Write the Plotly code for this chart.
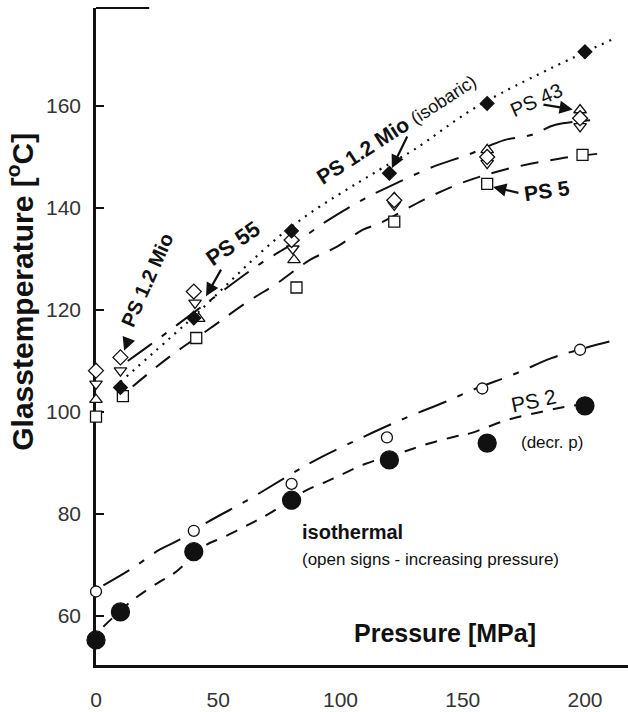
import plotly.graph_objects as go

# Glass temperature vs. pressure for several polystyrene samples
# --- measured points -------------------------------------------------------
# PS 1.2 Mio, isobaric (filled diamonds)
iso_p = [10, 40, 80, 120, 160, 200]
iso_t = [104.8, 118.4, 135.5, 146.8, 160.5, 170.6]

# PS 1.2 Mio, isothermal (open diamonds)
mio_p = [0, 10, 40, 80, 122, 160, 198]
mio_t = [108.1, 110.7, 123.6, 133.7, 141.5, 150.0, 157.6]

# PS 55 (open triangles down)
ps55_p = [0, 10, 40.5, 80.5, 122, 160, 198]
ps55_t = [105.5, 108.1, 121.4, 132.0, 140.6, 148.8, 156.0]

# PS 43 (open triangles up)
ps43_p = [0, 42, 81, 122, 160, 198]
ps43_t = [102.4, 118.3, 129.8, 142.0, 151.4, 159.2]

# PS 5 (open squares)
ps5_p = [0, 11, 41, 82, 122, 160, 199]
ps5_t = [99.1, 103.1, 114.5, 124.4, 137.3, 144.7, 150.4]

# PS 2, increasing pressure (open circles)
ps2_up_p = [0, 40, 80, 119, 158, 198]
ps2_up_t = [64.8, 76.7, 85.9, 95.0, 104.6, 112.2]

# PS 2, decreasing pressure (filled circles)
ps2_dn_p = [0, 10, 40, 80, 120, 160, 200]
ps2_dn_t = [55.3, 60.8, 72.6, 82.7, 90.6, 93.9, 101.2]

# --- fitted curves ---------------------------------------------------------
iso_fit_p = [10, 37, 79, 116, 130, 157, 211]
iso_fit_t = [105.9, 117.4, 136.0, 147.5, 151.4, 160.2, 173.0]

upper_fit_p = [13, 22, 47, 67, 84, 94, 109, 116, 138, 152, 167, 178, 188, 206]
upper_fit_t = [110.0, 113.1, 122.0, 129.0, 134.0, 137.3, 141.6, 143.3, 148.1, 150.4, 153.3, 154.3, 156.3, 157.3]

ps5_fit_p = [15, 30, 47, 62, 74, 87.5, 98.6, 109, 116, 134, 149, 167, 190, 205]
ps5_fit_t = [105.0, 110.8, 116.5, 121.6, 125.2, 129.8, 132.4, 135.7, 137.0, 141.6, 144.8, 147.5, 149.7, 150.6]

ps2_up_fit_p = [3, 15, 26, 34, 46, 62, 78, 90, 108, 126, 143, 154, 172, 186, 196, 210]
ps2_up_fit_t = [66.0, 69.4, 73.0, 74.9, 78.5, 82.7, 87.3, 90.6, 94.8, 98.7, 102.0, 104.3, 107.6, 110.5, 112.0, 113.8]

ps2_dn_fit_p = [3, 15, 26, 32, 45, 51, 62, 71, 85, 94, 100, 110, 126, 134, 147, 153, 168, 181, 192, 201]
ps2_dn_fit_t = [57.9, 63.1, 66.7, 68.4, 73.9, 75.2, 77.8, 80.1, 84.4, 86.3, 87.6, 89.8, 92.2, 93.5, 95.2, 95.8, 98.4, 99.9, 101.0, 101.6]

x_ticks = [0, 50, 100, 150, 200]
y_ticks = [60, 80, 100, 120, 140, 160]

FONT = "Liberation Sans, Arial, sans-serif"
INK = "#111111"

fig = go.Figure()


def fit_line(px, pt, dash, width=2.0):
    fig.add_trace(go.Scatter(
        x=px, y=pt, mode="lines", line=dict(color=INK, width=width, dash=dash, shape="spline"),
        hoverinfo="skip", showlegend=False))


fit_line(iso_fit_p, iso_fit_t, "2px,6px", 2.2)
fit_line(upper_fit_p, upper_fit_t, "30px,12px,6px,12px")
fit_line(ps5_fit_p, ps5_fit_t, "18px,12px")
fit_line(ps2_up_fit_p, ps2_up_fit_t, "30px,12px,6px,12px")
fit_line(ps2_dn_fit_p, ps2_dn_fit_t, "12px,10px")


def points(px, pt, symbol, size, filled):
    fig.add_trace(go.Scatter(
        x=px, y=pt, mode="markers", cliponaxis=False, showlegend=False,
        marker=dict(symbol=symbol, size=size,
                    color=INK if filled else "white",
                    line=dict(color=INK, width=1.3))))


points(ps5_p, ps5_t, "square", 11, False)
points(ps43_p, ps43_t, "triangle-up", 11, False)
points(ps55_p, ps55_t, "triangle-down", 11, False)
points(mio_p, mio_t, "diamond", 11.5, False)
points(iso_p, iso_t, "diamond", 10.5, True)
points(ps2_up_p, ps2_up_t, "circle", 11, False)
points(ps2_dn_p, ps2_dn_t, "circle", 18, True)

annotations = []


def label(text, x, y, size, angle=0, bold=False, xanchor="center"):
    annotations.append(dict(
        x=x, y=y, xref="x", yref="y", text=f"<b>{text}</b>" if bold else text,
        showarrow=False, textangle=angle, xanchor=xanchor, yanchor="middle",
        font=dict(family=FONT, size=size, color=INK)))


def arrow(x0, y0, x1, y1):
    annotations.append(dict(
        x=x1, y=y1, ax=x0, ay=y0, xref="x", yref="y", axref="x", ayref="y",
        text="", showarrow=True, arrowhead=2, arrowsize=1.2, arrowwidth=2.2,
        arrowcolor=INK, standoff=0, startstandoff=0))


label("PS 1.2 Mio", 20.9, 125.9, 20, angle=-66, bold=True)
arrow(13.5, 114.5, 11.5, 112.0)

label("PS 55", 56, 133, 22, angle=-35, bold=True)
arrow(51.5, 128.2, 45, 122.7)

label("<b>PS 1.2 Mio</b> <span style='font-size:18px'>(isobaric)</span>", 123, 155.5, 21, angle=-33)
arrow(127.6, 154.3, 121, 147.8)

label("PS 43", 180, 161.2, 20, angle=-24)
arrow(182.4, 160.3, 195, 159.3)

label("PS 5", 184.5, 143.5, 21, angle=-8, bold=True)
arrow(173.4, 142.9, 162.4, 144.1)

label("PS 2", 179, 102.2, 21, angle=-12)
label("(decr. p)", 186.5, 94.1, 17)

label("isothermal", 83.4, 76.5, 20, bold=True, xanchor="left")
label("(open signs - increasing pressure)", 83.4, 71.0, 17, xanchor="left")

label("Pressure [MPa]", 142.7, 56.7, 25, bold=True)

annotations.append(dict(
    x=-0.143, y=0.568, xref="paper", yref="paper", showarrow=False, textangle=-90,
    xanchor="center", yanchor="middle",
    text="<b>Glasstemperature [<sup>o</sup>C]</b>",
    font=dict(family=FONT, size=30, color=INK)))

fig.update_layout(
    width=628, height=712,
    margin=dict(l=96, r=0, t=8, b=47),
    paper_bgcolor="white", plot_bgcolor="white",
    showlegend=False,
    annotations=annotations,
    shapes=[dict(type="line", xref="paper", yref="paper", x0=0, x1=0.1, y0=1, y1=1,
                 line=dict(color=INK, width=2))],
    xaxis=dict(range=[0, 217.6], showline=True, linewidth=2.5, linecolor=INK,
               showgrid=False, zeroline=False, ticks="", tickvals=x_ticks,
               ticklabelstandoff=14, layer="below traces",
               tickfont=dict(family=FONT, size=21, color="#333333")),
    yaxis=dict(range=[50.39, 179.2], showline=True, linewidth=2.5, linecolor=INK,
               showgrid=False, zeroline=False, ticks="inside", ticklen=8, tickwidth=1.5,
               tickcolor=INK, tickvals=y_ticks, ticklabelstandoff=8, layer="below traces",
               tickfont=dict(family=FONT, size=21, color="#333333")),
)

fig.write_html("out.html")
